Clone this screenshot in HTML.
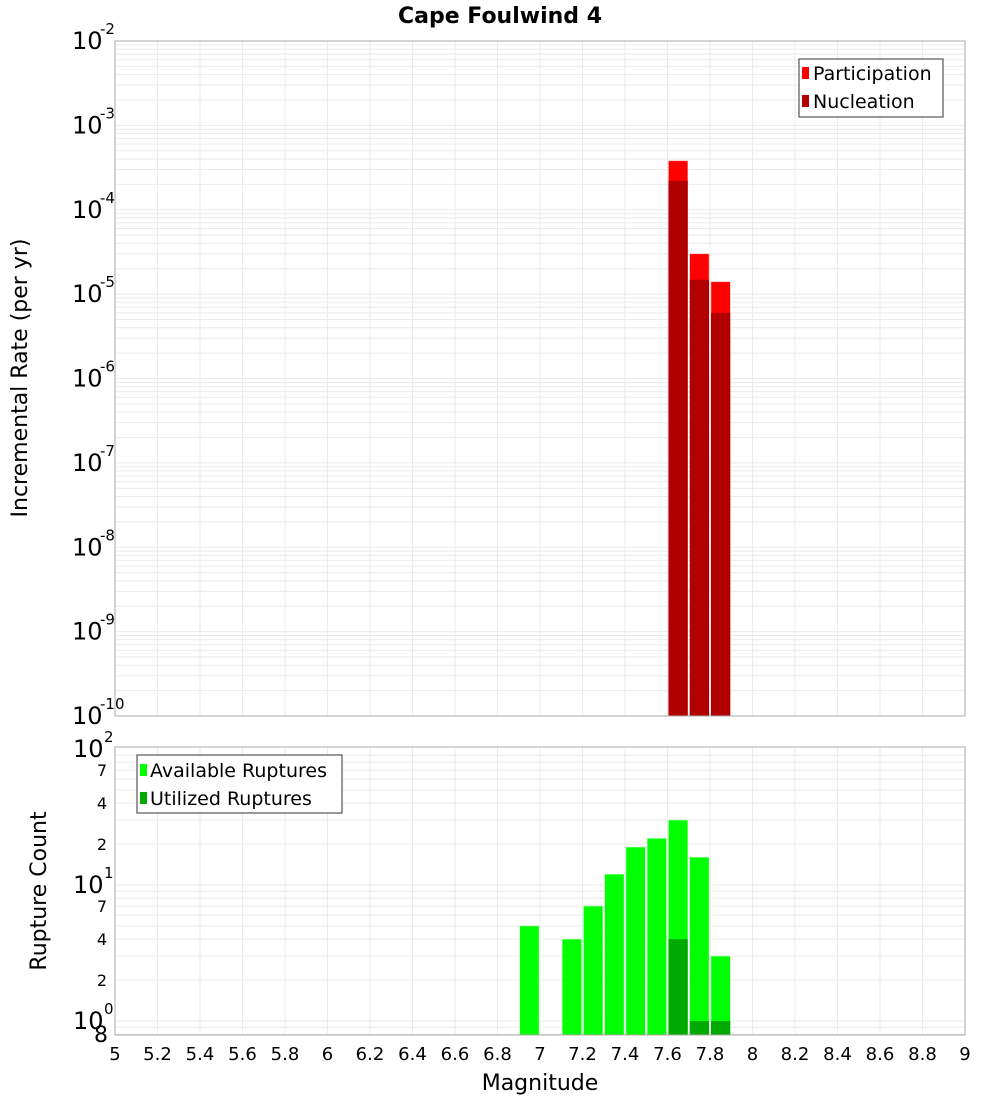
<!DOCTYPE html>
<html><head><meta charset="utf-8"><style>
body{margin:0;background:#fff;width:1000px;height:1100px;overflow:hidden}
svg text{font-family:"DejaVu Sans","Liberation Sans",sans-serif;fill:#000}
</style></head><body>
<svg id="chart" width="1000" height="1100" xmlns="http://www.w3.org/2000/svg">
<text x="500" y="23" text-anchor="middle" font-size="22" font-weight="bold">Cape Foulwind 4</text>
<g id="topg"></g>
<g id="botg"></g>
<text transform="translate(27,378) rotate(-90)" text-anchor="middle" font-size="22">Incremental Rate (per yr)</text>
<text transform="translate(46,891) rotate(-90)" text-anchor="middle" font-size="22">Rupture Count</text>
<text x="540" y="1090" text-anchor="middle" font-size="22">Magnitude</text>
<g>
<rect x="799" y="59" width="144" height="58" fill="#fff" stroke="#333"/>
<rect x="802" y="67" width="7" height="12" fill="#ff0000"/>
<text x="813" y="80" font-size="19">Participation</text>
<rect x="802" y="95" width="7" height="12" fill="#b00000"/>
<text x="813" y="108" font-size="19">Nucleation</text>
</g>
<g>
<rect x="137" y="755" width="205" height="58" fill="#fff" stroke="#333"/>
<rect x="140" y="764" width="7" height="12" fill="#00ff00"/>
<text x="150" y="777" font-size="19">Available Ruptures</text>
<rect x="140" y="792" width="7" height="12" fill="#00aa00"/>
<text x="150" y="805" font-size="19">Utilized Ruptures</text>
</g>
</svg>
<script>
const binStarts=[7.6,7.7,7.8];
const participation=[3.8e-4,3.0e-5,1.4e-5];
const nucleation=[2.2e-4,1.48e-5,6.0e-6];
const cntStarts=[6.9,7.1,7.2,7.3,7.4,7.5,7.6,7.7,7.8];
const available=[5,4,7,12,19,22,30,16,3];
const utilized=[0,0,0,0,0,0,4,1,1];
const xTicks=[5,5.2,5.4,5.6,5.8,6,6.2,6.4,6.6,6.8,7,7.2,7.4,7.6,7.8,8,8.2,8.4,8.6,8.8,9];
const topExps=[-2,-3,-4,-5,-6,-7,-8,-9,-10];
const botMinor=[2,4,7,20,40,70];
const NS='http://www.w3.org/2000/svg';
const X0=115,X1=965;
const xs=m=>X0+(m-5)/4*(X1-X0);
const T0=41,T1=716;
const yT=v=>T0+(T1-T0)*(-2-Math.log10(v))/8;
const B0=747,B1=1035;
const yB=v=>885-136*(Math.log10(v)-1);
function mk(p,tag,at,txt){const e=document.createElementNS(NS,tag);for(const k in at)e.setAttribute(k,at[k]);if(txt!==undefined)e.textContent=txt;p.appendChild(e);return e;}
const topG=document.getElementById('topg'),botG=document.getElementById('botg'),svgEl=document.getElementById('chart');
for(let e=-10;e<-2;e++){for(let k=1;k<10;k++){const y=yT(k*Math.pow(10,e));if(y<T0)continue;const l=mk(topG,'line',{x1:X0,x2:X1,y1:y,y2:y,stroke:'#ebebeb'});

}}
for(let e=-1;e<2;e++){for(let k=1;k<10;k++){const v=k*Math.pow(10,e);const y=yB(v);if(y<B0||y>B1)continue;const l=mk(botG,'line',{x1:X0,x2:X1,y1:y,y2:y,stroke:'#ebebeb'});

}}
xTicks.forEach(t=>{const X=xs(t);
const a=mk(topG,'line',{x1:X,x2:X,y1:T0,y2:T1,stroke:'#ebebeb'});


const b=mk(botG,'line',{x1:X,x2:X,y1:B0,y2:B1,stroke:'#ebebeb'});


const tx=mk(svgEl,'text',{x:X,y:1060,'text-anchor':'middle','font-size':'18'},String(t));

});
const bw=0.1;
binStarts.forEach((s,i)=>{
const r=mk(topG,'rect',{x:xs(s)+1,width:xs(s+bw)-xs(s)-2,y:yT(participation[i]),height:T1-yT(participation[i]),fill:'#ff0000',stroke:'#ffaaaa','stroke-width':0.5});


const n=mk(topG,'rect',{x:xs(s)+1,width:xs(s+bw)-xs(s)-2,y:yT(nucleation[i]),height:T1-yT(nucleation[i]),fill:'#b00000'});

});
cntStarts.forEach((s,i)=>{
const r=mk(botG,'rect',{x:xs(s)+1,width:xs(s+bw)-xs(s)-2,y:yB(available[i]),height:B1-yB(available[i]),fill:'#00ff00',stroke:'#aaffaa','stroke-width':0.5});


if(utilized[i]>0){const u=mk(botG,'rect',{x:xs(s)+1,width:xs(s+bw)-xs(s)-2,y:yB(utilized[i]),height:B1-yB(utilized[i]),fill:'#00aa00'});

}});
mk(topG,'rect',{x:X0,y:T0,width:X1-X0,height:T1-T0,fill:'none',stroke:'#aaa'});
mk(botG,'rect',{x:X0,y:B0,width:X1-X0,height:B1-B0,fill:'none',stroke:'#aaa'});
topExps.forEach(e=>{const y=yT(Math.pow(10,e));
const t=mk(svgEl,'text',{x:72,y:y+8,'font-size':'24'},'10');


const s=mk(svgEl,'text',{x:100,y:y-7,'font-size':'15'},String(e));

});
[[100,'2'],[10,'1'],[1,'0']].forEach(([v,e])=>{const y=yB(v);
const t=mk(svgEl,'text',{x:73,y:y+8,'font-size':'24'},'10');


const s=mk(svgEl,'text',{x:104,y:y-7,'font-size':'15'},e);

});
botMinor.concat([0.8]).forEach(v=>{const y=yB(v);const lab=v<1?'8':String(v>=10?v/10:v);
const big=v<1;
const t=mk(svgEl,'text',{x:big?108:107,y:y+(big?8:6),'font-size':big?'22':'16','text-anchor':'end'},lab);

});
</script>
</body></html>
